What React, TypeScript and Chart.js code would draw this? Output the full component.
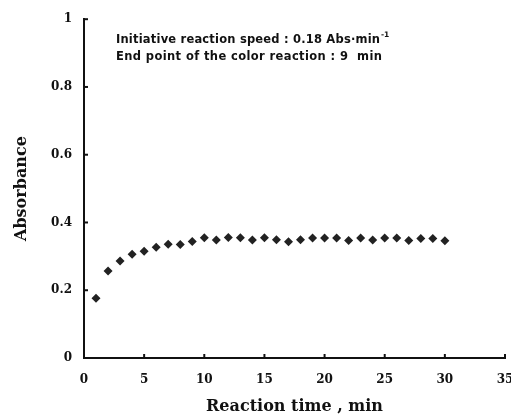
import React, { useEffect, useRef } from "react";
import { Chart, registerables } from "chart.js";

Chart.register(...registerables);

const times = [1, 2, 3, 4, 5, 6, 7, 8, 9, 10, 11, 12, 13, 14, 15, 16, 17, 18, 19, 20, 21, 22, 23, 24, 25, 26, 27, 28, 29, 30];
const absorbance = [0.176, 0.257, 0.286, 0.306, 0.315, 0.327, 0.336, 0.335, 0.344, 0.355, 0.348, 0.356, 0.355, 0.348, 0.355, 0.349, 0.343, 0.349, 0.354, 0.354, 0.354, 0.347, 0.354, 0.348, 0.354, 0.354, 0.347, 0.353, 0.353, 0.346];
const annotationLine1 = "Initiative reaction speed : 0.18 Abs\u00b7min";
const annotationSup = "-1";
const annotationLine2 = "End point of the color reaction : 9  min";
const xTitle = "Reaction time , min";
const yTitle = "Absorbance";

const ANNOT_FONT = "bold 11.5px 'DejaVu Sans', sans-serif";

function spacedText(ctx: any, text: string, x: number, y: number, targetWidth: number) {
  ctx.letterSpacing = "0px";
  const w = ctx.measureText(text).width;
  const extra = (targetWidth - w) / (text.length - 1);
  ctx.letterSpacing = `${extra}px`;
  ctx.fillText(text, x, y);
  const w2 = ctx.measureText(text).width;
  ctx.letterSpacing = "0px";
  return w2 - extra;
}

const inwardTicks = {
  id: "inwardTicks",
  afterDraw(chart: any) {
    const ctx = chart.ctx;
    const xs = chart.scales.x;
    const ys = chart.scales.y;
    const area = chart.chartArea;
    ctx.save();
    ctx.strokeStyle = "#111";
    ctx.lineWidth = 2;
    xs.ticks.forEach((t: any) => {
      const px = xs.getPixelForValue(t.value);
      if (t.value === 0) return;
      ctx.beginPath();
      ctx.moveTo(px, area.bottom);
      ctx.lineTo(px, area.bottom - 4);
      ctx.stroke();
    });
    ys.ticks.forEach((t: any) => {
      const py = ys.getPixelForValue(t.value);
      if (t.value === 0) return;
      ctx.beginPath();
      ctx.moveTo(area.left, py);
      ctx.lineTo(area.left + 4, py);
      ctx.stroke();
    });
    // annotation
    ctx.fillStyle = "#111";
    ctx.font = ANNOT_FONT;
    ctx.textBaseline = "middle";
    ctx.textAlign = "left";
    const x0 = area.left + 32;
    const w = spacedText(ctx, annotationLine1, x0, 40, 264);
    ctx.font = "bold 7.5px 'DejaVu Sans', sans-serif";
    ctx.fillText(annotationSup, x0 + w + 1, 35);
    ctx.font = ANNOT_FONT;
    spacedText(ctx, annotationLine2, x0, 57, 266);
    ctx.restore();
  },
};

export default function App() {
  const ref = useRef<HTMLCanvasElement>(null);
  useEffect(() => {
    if (!ref.current) return;
    const chart = new Chart(ref.current, {
      type: "scatter",
      data: {
        datasets: [
          {
            data: times.map((t, i) => ({ x: t, y: absorbance[i] })),
            pointStyle: "rectRot",
            pointRadius: 4.5,
            backgroundColor: "#222",
            borderColor: "#222",
            borderWidth: 0,
          },
        ],
      },
      options: {
        animation: false,
        responsive: false,
        events: [],
        layout: { padding: { top: 16, right: 25, left: 0, bottom: 0 } },
        plugins: { legend: { display: false }, tooltip: { enabled: false } },
        scales: {
          x: {
            type: "linear",
            min: 0,
            max: 35,
            afterFit: (s: any) => { s.height = 58; },
            grid: { display: true, drawOnChartArea: false, drawTicks: false },
            border: { display: true, color: "#111", width: 2 },
            ticks: {
              stepSize: 5,
              padding: 15,
              color: "#111",
              font: { family: "'DejaVu Serif', serif", size: 12, weight: "bold" },
            },
            title: {
              display: true,
              text: xTitle,
              color: "#111",
              padding: { top: 0, bottom: 0 },
              font: { family: "'DejaVu Serif', serif", size: 16, weight: "bold" },
            },
          },
          y: {
            min: 0,
            max: 1,
            afterFit: (s: any) => { s.width = 84; },
            grid: { display: true, drawOnChartArea: false, drawTicks: false },
            border: { display: true, color: "#111", width: 2 },
            ticks: {
              stepSize: 0.2,
              padding: 12,
              color: "#111",
              callback: (v: any) => (v === 0 ? "0" : v === 1 ? "1" : Number(v).toFixed(1)),
              font: { family: "'DejaVu Serif', serif", size: 12, weight: "bold" },
            },
            title: {
              display: true,
              text: yTitle,
              color: "#111",
              padding: { top: 12, bottom: 0 },
              font: { family: "'DejaVu Serif', serif", size: 16, weight: "bold" },
            },
          },
        },
      },
      plugins: [inwardTicks],
    });
    return () => chart.destroy();
  }, []);
  return (
    <div style={{ position: "fixed", left: 0, top: 0, width: 511, height: 416, overflow: "hidden", background: "#fff" }}>
      <canvas ref={ref} width={530} height={416} style={{ width: 530, height: 416, display: "block" }} />
    </div>
  );
}
